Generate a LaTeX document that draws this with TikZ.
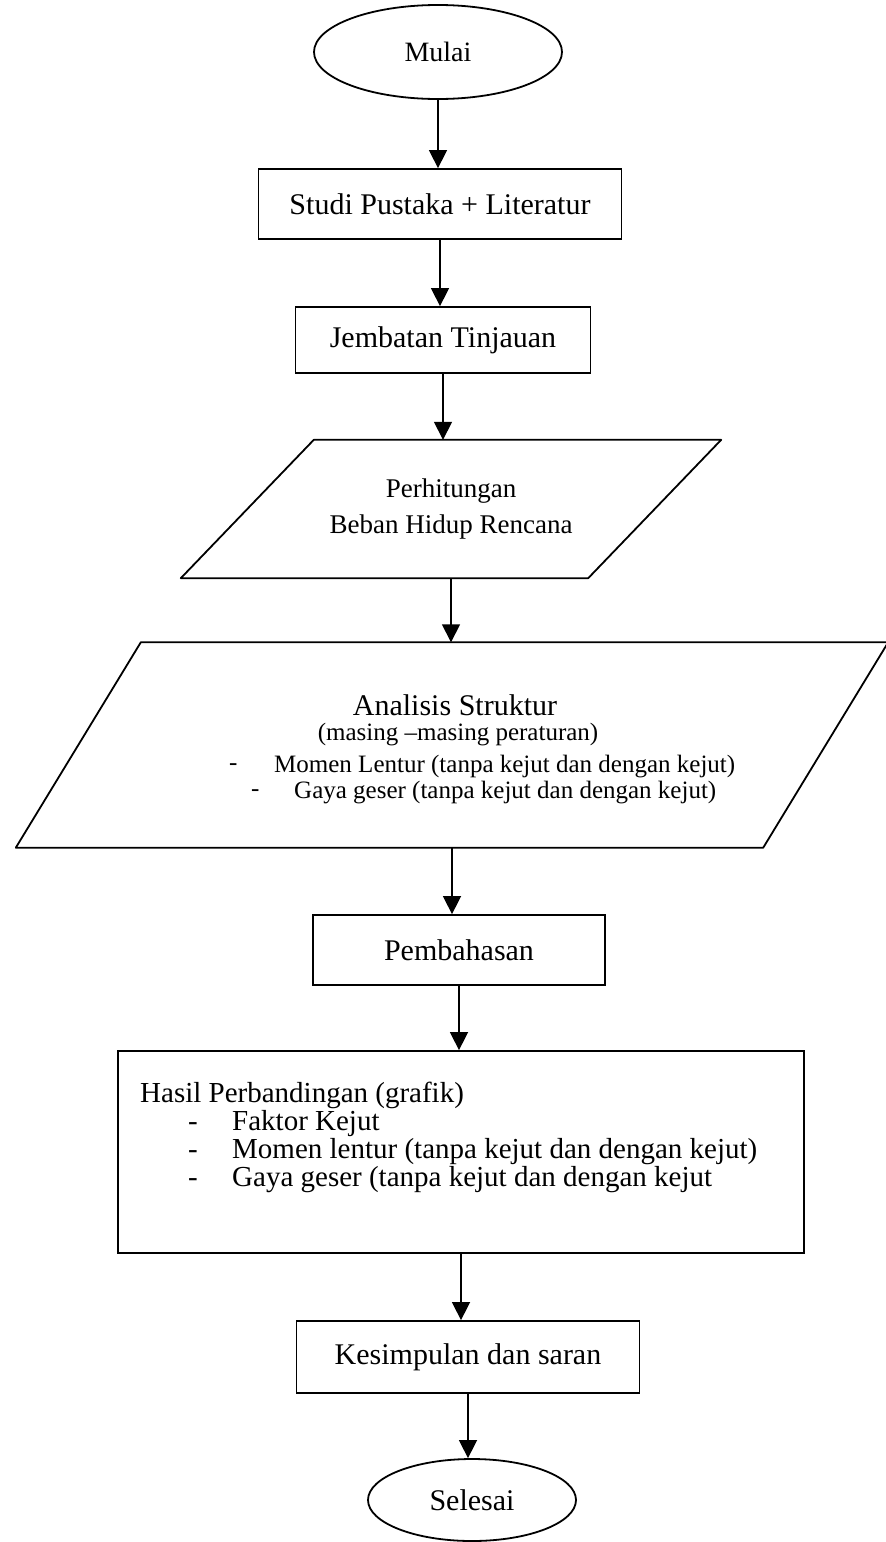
\documentclass[tikz,border=0pt]{standalone}
\usepackage{fontspec}
\setmainfont{Liberation Serif}
\usetikzlibrary{shapes.geometric,arrows.meta}
\newcommand{\fsz}[1]{\fontsize{#1}{#1}\selectfont}
\newcommand{\bul}[1]{\hspace*{48pt}\makebox[44pt][l]{-}#1}
\begin{document}
\begin{tikzpicture}[x=1pt,y=-1pt,
  procbox/.style={draw, rectangle, line width=1.8pt, inner sep=0pt, font=\fsz{30}},
  term/.style={draw, ellipse, line width=1.8pt, inner sep=0pt, font=\fsz{30}},
  pnode/.style={rectangle, inner sep=0pt, align=center},
  pline/.style={line width=1.8pt, line join=round},
  txt/.style={inner sep=0pt},
  flow/.style={-{Triangle[length=18pt,width=18pt]}, line width=1.5pt}]
\useasboundingbox (0,0) rectangle (886,1542);

\node[term, minimum width=248pt, minimum height=94pt, font=\fsz{28}] (mulai) at (438,52) {Mulai};
\node[procbox, minimum width=363pt, minimum height=70pt] (studi) at (440,204) {Studi Pustaka + Literatur};
\node[procbox, minimum width=295pt, minimum height=66pt] (jemb) at (443,340) {Jembatan Tinjauan};

\node[pnode, minimum width=407pt, minimum height=138pt, font=\fontsize{27}{36}\selectfont] (p1) at (451,509) {Perhitungan\\Beban Hidup Rencana};
\draw[pline] ([xshift=-66.5pt]p1.south west) -- ([xshift=-66.5pt]p1.south east) -- ([xshift=66.5pt]p1.north east) -- ([xshift=66.5pt]p1.north west) -- cycle;

\node[pnode, minimum width=747pt, minimum height=205pt] (p2) at (452,745) {};
\draw[pline] ([xshift=-62.5pt]p2.south west) -- ([xshift=-62.5pt]p2.south east) -- ([xshift=62.5pt]p2.north east) -- ([xshift=62.5pt]p2.north west) -- cycle;
\node[txt, font=\fsz{30}] (a1) at (455,705) {Analisis Struktur};
\node[txt, font=\fsz{25}] (a2) at (458,735) {(masing –masing peraturan)};
\node[txt, font=\fsz{25}, anchor=west] (a3d) at (229,767) {-};
\node[txt, font=\fsz{25}, anchor=west] (a3) at (274,767) {Momen Lentur (tanpa kejut dan dengan kejut)};
\node[txt, font=\fsz{25}, anchor=west] (a4d) at (251,793) {-};
\node[txt, font=\fsz{25}, anchor=west] (a4) at (294,793) {Gaya geser (tanpa kejut dan dengan kejut)};

\node[procbox, minimum width=292pt, minimum height=70pt] (pemb) at (459,950) {Pembahasan};

\node[procbox, minimum width=686pt, minimum height=202pt] (hasil) at (461,1152) {};
\node[txt, anchor=north west, align=left, font=\fontsize{29}{28}\selectfont] (htext) at (140,1082)
  {Hasil Perbandingan (grafik)\\
   \bul{Faktor Kejut}\\
   \bul{Momen lentur (tanpa kejut dan dengan kejut)}\\
   \bul{Gaya geser (tanpa kejut dan dengan kejut}};

\node[procbox, minimum width=343pt, minimum height=72pt] (kes) at (468,1357) {Kesimpulan dan saran};
\node[term, minimum width=208pt, minimum height=82pt] (sel) at (472,1500) {Selesai};

\draw[flow] (mulai.south) -- (mulai.south |- studi.north);
\draw[flow] (studi.south) -- (studi.south |- jemb.north);
\draw[flow] (jemb.south) -- (jemb.south |- p1.north);
\draw[flow] (p1.south) -- (p1.south |- p2.north);
\draw[flow] (p2.south) -- (p2.south |- pemb.north);
\draw[flow] (pemb.south) -- (pemb.south |- hasil.north);
\draw[flow] (hasil.south) -- (hasil.south |- kes.north);
\draw[flow] (kes.south) -- (kes.south |- sel.north);
\end{tikzpicture}
\end{document}
